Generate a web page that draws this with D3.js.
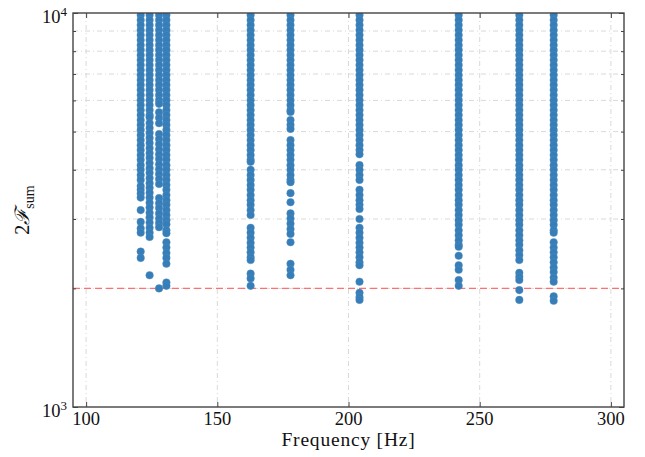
<!DOCTYPE html>
<html><head><meta charset="utf-8">
<script src="https://cdn.jsdelivr.net/npm/d3@7"></script>
<style>body{margin:0;background:#fff}</style>
</head><body>
<svg id="chart" width="645" height="457"></svg>
<script>
// ---- data ----
const frequencies = [120.8, 124.2, 127.8, 130.6, 162.7, 177.9, 204.2, 242.0, 265.1, 278.2];

const twoF_120_8 = [9880,9600,9320,9050,8790,8540,8290,8060,7820,7600,7380,7170,6960,6760,6570,6380,6190,6010,5840,5670,5510,5350,5200,5050,4900,4760,4620,4490,4360,4240,4110,4000,3880,3770,3640,3560,3480,3400,3160,2950,2840,2770,2480,2390];
const twoF_124_2 = [9880,9600,9320,9050,8790,8540,8290,8060,7820,7600,7380,7170,6960,6760,6570,6380,6190,6010,5840,5670,5510,5440,5260,5110,4960,4820,4680,4540,4410,4290,4160,4040,3930,3810,3700,3600,3500,3400,3300,3210,3110,3030,2940,2850,2770,2700,2160];
const twoF_127_8 = [9880,9600,9320,9050,8790,8540,8290,8060,7820,7600,7380,7170,6960,6760,6570,6380,6190,6010,5880,5600,5420,5250,4930,4790,4650,4510,4380,4260,4130,4010,3900,3790,3680,3390,3290,3200,3100,3010,2930,2860,2000];
const twoF_130_6 = [9880,9600,9320,9050,8790,8540,8290,8060,7820,7600,7380,7170,6960,6760,6570,6380,6190,6010,5840,5670,5510,5350,5200,5050,4900,4760,4620,4490,4360,4240,4110,4000,3880,3770,3660,3560,3450,3350,3260,3160,3070,2980,2910,2810,2760,2620,2540,2460,2390,2310,2070,2030];
const twoF_162_7 = [9880,9600,9320,9050,8790,8540,8290,8060,7820,7600,7380,7170,6960,6760,6570,6380,6190,6010,5840,5670,5510,5350,5200,5050,4900,4760,4620,4490,4360,4240,4190,4000,3880,3770,3660,3560,3450,3350,3260,3160,3070,2850,2770,2690,2610,2540,2470,2400,2360,2180,2120,2030];
const twoF_177_9 = [9880,9600,9320,9050,8790,8540,8290,8060,7820,7600,7380,7170,6960,6760,6570,6380,6190,6010,5840,5670,5610,5350,5200,5080,4760,4620,4490,4360,4240,4110,4000,3880,3770,3720,3490,3310,3100,3010,2920,2830,2750,2620,2310,2230,2160];
const twoF_204_2 = [9880,9600,9320,9050,8790,8540,8290,8060,7820,7600,7380,7170,6960,6760,6570,6380,6190,6010,5840,5670,5510,5350,5200,5050,4900,4760,4620,4490,4380,4110,4000,3880,3770,3560,3450,3350,3260,3180,3000,2850,2770,2690,2610,2540,2470,2400,2330,2290,2080,1950,1900,1870];
const twoF_242_0 = [9880,9600,9320,9050,8790,8540,8290,8060,7820,7600,7380,7170,6960,6760,6570,6380,6190,6010,5840,5670,5510,5350,5200,5050,4900,4760,4620,4490,4360,4240,4110,4000,3880,3770,3660,3560,3450,3350,3260,3160,3070,2980,2900,2810,2730,2650,2580,2550,2420,2290,2230,2100,2030];
const twoF_265_1 = [9880,9600,9320,9050,8790,8540,8290,8060,7820,7600,7380,7170,6960,6760,6570,6380,6190,6010,5840,5670,5510,5350,5200,5050,4900,4760,4620,4490,4360,4240,4110,4000,3880,3770,3660,3560,3450,3350,3260,3160,3070,2980,2900,2810,2730,2650,2580,2500,2430,2360,2190,2140,2100,1980,1870];
const twoF_278_2 = [9880,9600,9320,9050,8790,8540,8290,8060,7820,7600,7380,7170,6960,6760,6570,6380,6190,6010,5840,5670,5510,5350,5200,5050,4900,4760,4620,4490,4360,4240,4110,4000,3880,3770,3660,3560,3450,3350,3260,3160,3070,2980,2900,2810,2770,2620,2540,2470,2400,2330,2260,2200,2130,2080,1910,1860];

const seriesValues = [twoF_120_8, twoF_124_2, twoF_127_8, twoF_130_6, twoF_162_7, twoF_177_9, twoF_204_2, twoF_242_0, twoF_265_1, twoF_278_2];

const xTicks = [100, 150, 200, 250, 300];
const xTickLabels = ["100", "150", "200", "250", "300"];
const yMajorTicks = [1000, 10000];
const yMajorExponents = ["3", "4"];
const yMinorTicks = [2000, 3000, 4000, 5000, 6000, 7000, 8000, 9000];
const thresholdValue = 2000;
const xDomain = [95, 305];
const yDomain = [1000, 10000];

// ---- layout ----
const L = 73, R = 624, T = 13, B = 407;
const svg = d3.select("#chart");
const x = d3.scaleLinear().domain(xDomain).range([L, R]);
const y = d3.scaleLog().domain(yDomain).range([B, T]);
const serif = "'Liberation Serif', 'DejaVu Serif', serif";

svg.append("defs").append("clipPath").attr("id", "plotclip")
  .append("rect").attr("x", L).attr("y", T).attr("width", R - L).attr("height", B - T);

// grid
const grid = svg.append("g").attr("stroke", "#d9d9d9").attr("stroke-width", 1)
  .attr("stroke-dasharray", "5,3,1,3").attr("fill", "none");
grid.selectAll("line.vx").data(xTicks).join("line")
  .attr("x1", d => x(d)).attr("x2", d => x(d)).attr("y1", T).attr("y2", B);
grid.selectAll("line.hy").data(yMinorTicks).join("line")
  .attr("x1", L).attr("x2", R).attr("y1", d => y(d)).attr("y2", d => y(d));

// threshold line
svg.append("line").attr("x1", L).attr("x2", R)
  .attr("y1", y(thresholdValue)).attr("y2", y(thresholdValue))
  .attr("stroke", "#ff7070").attr("stroke-width", 1.2).attr("stroke-dasharray", "7,4");

// points
const pts = [];
frequencies.forEach((f, i) => seriesValues[i].forEach(v => pts.push({f, v})));
svg.append("g").attr("clip-path", "url(#plotclip)")
  .selectAll("circle").data(pts).join("circle")
  .attr("cx", d => x(d.f)).attr("cy", d => y(d.v)).attr("r", 3.8)
  .attr("fill", "#377eb8").attr("stroke", "#4d8dc3").attr("stroke-width", 0.4);

// axes frame with inward ticks
const axG = svg.append("g");
const bottomAxis = d3.axisBottom(x).tickValues(xTicks).tickSize(-5).tickFormat("");
const topAxis = d3.axisTop(x).tickValues(xTicks).tickSize(-5).tickFormat("");
const leftMinor = d3.axisLeft(y).tickValues(yMinorTicks).tickSize(-3).tickFormat("");
const rightMinor = d3.axisRight(y).tickValues(yMinorTicks).tickSize(-3).tickFormat("");
const leftMajor = d3.axisLeft(y).tickValues(yMajorTicks).tickSize(-5).tickFormat("");
const rightMajor = d3.axisRight(y).tickValues(yMajorTicks).tickSize(-5).tickFormat("");
[[bottomAxis, `translate(0,${B})`], [topAxis, `translate(0,${T})`],
 [leftMinor, `translate(${L},0)`], [rightMinor, `translate(${R},0)`],
 [leftMajor, `translate(${L},0)`], [rightMajor, `translate(${R},0)`]].forEach(([a, t]) => {
  const g = axG.append("g").attr("transform", t).call(a);
  g.select(".domain").remove();
  g.selectAll("line").attr("stroke", "#444").attr("stroke-width", 1);
});
svg.append("rect").attr("x", L).attr("y", T).attr("width", R - L).attr("height", B - T)
  .attr("fill", "none").attr("stroke", "#444").attr("stroke-width", 1.4);

// x tick labels
svg.append("g").selectAll("text").data(xTicks).join("text")
  .attr("x", d => x(d)).attr("y", 425).attr("text-anchor", "middle")
  .attr("font-family", serif).attr("font-size", 18.5).attr("fill", "#111")
  .text((d, i) => xTickLabels[i]);

// y tick labels (10^n)
const yl = svg.append("g").selectAll("text").data(yMajorTicks).join("text")
  .attr("x", 67).attr("y", d => y(d) + 9.5).attr("text-anchor", "end")
  .attr("font-family", serif).attr("font-size", 18.5).attr("fill", "#111");
yl.append("tspan").text("10");
yl.append("tspan").attr("dy", -7).attr("font-size", 13).text((d, i) => yMajorExponents[i]);

// axis labels
svg.append("text").attr("x", (L + R) / 2).attr("y", 446).attr("text-anchor", "middle")
  .attr("font-family", serif).attr("font-size", 19.5).attr("letter-spacing", 0.8).attr("fill", "#111")
  .text("Frequency [Hz]");

const ylab = svg.append("text").attr("transform", `translate(29,${(T + B) / 2}) rotate(-90)`)
  .attr("text-anchor", "middle").attr("font-family", serif).attr("font-size", 20).attr("fill", "#111");
ylab.append("tspan").text("2");
ylab.append("tspan").attr("font-style", "italic").text("ℱ");
ylab.append("tspan").attr("dy", 5).attr("font-size", 14).text("sum");
</script>
</body></html>
